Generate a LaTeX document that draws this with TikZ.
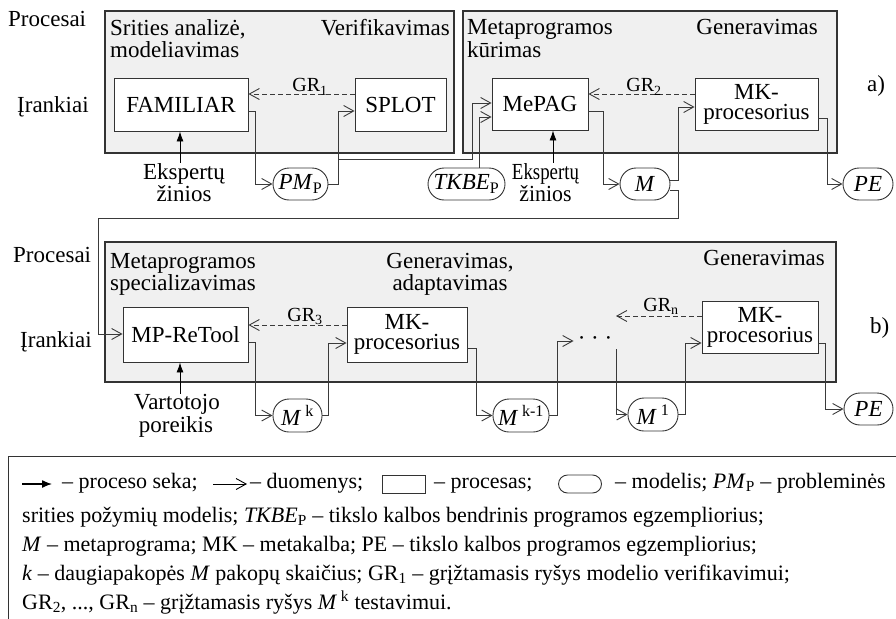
\documentclass[tikz,border=0pt]{standalone}
\usepackage{fontspec}
\usepackage{graphicx}
\setmainfont{Liberation Serif}
\usetikzlibrary{arrows.meta}
\definecolor{panelfill}{HTML}{F0F0F0}
\definecolor{edgec}{HTML}{333333}
\definecolor{wirec}{HTML}{3A3A3A}
\tikzset{
  panel/.style={rectangle, draw=edgec, line width=1.1pt, fill=panelfill, inner sep=0},
  tool/.style={rectangle, draw=edgec, line width=0.9pt, fill=white, inner sep=0, align=center,
    font=\fontsize{23}{20}\selectfont},
  model/.style={rectangle, draw=edgec, line width=0.9pt, fill=white, rounded corners=16pt,
    inner sep=0, minimum height=32pt, font=\fontsize{23}{23}\selectfont},
  lbl/.style={inner sep=0, font=\fontsize{23}{23}\selectfont},
  grl/.style={inner sep=0, font=\fontsize{20}{20}\selectfont},
  leg/.style={inner sep=0, anchor=base west, font=\fontsize{22}{22}\selectfont},
  data/.style={draw=wirec, line width=0.9pt, -{Straight Barb[length=10pt,width=11pt]}},
  fb/.style={data, dash pattern=on 5pt off 3pt},
  proc/.style={draw=black, line width=0.9pt, -{Latex[length=10pt,width=7pt]}},
}
\begin{document}
\begin{tikzpicture}[x=1pt,y=-1pt]
\useasboundingbox (0,0) rectangle (896,618);

% process panels
\node[panel, minimum width=349pt, minimum height=142pt] (panA) at (279.5,82) {};
\node[panel, minimum width=374pt, minimum height=142pt] (panB) at (650,82) {};
\node[panel, minimum width=731pt, minimum height=140pt] (panC) at (470.5,312) {};

% row captions
\node[lbl, anchor=base west] (pr1) at (8,27) {Procesai};
\node[lbl, anchor=base west] (ir1) at (17,112) {Įrankiai};
\node[lbl, anchor=base west] (pr2) at (13,262) {Procesai};
\node[lbl, anchor=base west] (ir2) at (20,347) {Įrankiai};

% panel titles
\node[lbl, anchor=base west] (tA1) at (110,36) {Srities analizė,};
\node[lbl, anchor=base west] (tA2) at (110,57) {modeliavimas};
\node[lbl, anchor=base east] (tA3) at (450,36) {Verifikavimas};
\node[lbl, anchor=base west] (tB1) at (467,35) {Metaprogramos};
\node[lbl, anchor=base west] (tB2) at (467,57) {kūrimas};
\node[lbl, anchor=base east] (tB3) at (818,35) {Generavimas};
\node[lbl, anchor=base west] (tC1) at (110,268) {Metaprogramos};
\node[lbl, anchor=base west] (tC2) at (110,290) {specializavimas};
\node[lbl, anchor=base] (tC3) at (450,268) {Generavimas,};
\node[lbl, anchor=base] (tC4) at (450,290) {adaptavimas};
\node[lbl, anchor=base east] (tC5) at (825,265) {Generavimas};
\node[lbl, anchor=base west] (la) at (867,92) {a)};
\node[lbl, anchor=base west] (lb) at (870,333) {b)};

% tools
\node[tool, minimum width=134pt, minimum height=53pt] (fam) at (181,104.5) {FAMILIAR};
\node[tool, minimum width=91pt, minimum height=53pt] (splot) at (400.5,104.5) {SPLOT};
\node[tool, minimum width=96pt, minimum height=52pt] (mepag) at (540,104) {MePAG};
\node[tool, minimum width=123pt, minimum height=52pt] (mkA) at (756.5,104) {MK-\\procesorius};
\node[tool, minimum width=125pt, minimum height=55pt] (mpr) at (185.5,334.5) {MP-ReTool};
\node[tool, minimum width=120pt, minimum height=55pt] (mkB) at (407,334.5) {MK-\\procesorius};
\node[tool, minimum width=116pt, minimum height=52pt] (mkC) at (760,327) {MK-\\procesorius};

% models
\node[model, minimum width=55pt] (pmp) at (300.5,184) {\textit{PM}\textsubscript{P}};
\node[model, minimum width=77pt] (tkbe) at (466.5,184) {\textit{TKBE}\textsubscript{P}};
\node[model, minimum width=50pt] (mA) at (645,184) {\textit{M}};
\node[model, minimum width=50pt] (peA) at (868,184) {\textit{PE}};
\node[model, minimum width=49pt, minimum height=33pt] (mk) at (297.5,415.5) {\textit{M}\,\textsuperscript{k}};
\node[model, minimum width=56pt, minimum height=33pt] (mk1) at (521,415.5) {\textit{M}\,\textsuperscript{k-1}};
\node[model, minimum width=50pt, minimum height=33pt] (m1) at (653,414.5) {\textit{M}\,\textsuperscript{1}};
\node[model, minimum width=49pt] (peB) at (868.5,409) {\textit{PE}};
\node[lbl, inner xsep=4pt] (dots) at (595,341) {· · ·};
\coordinate (grnend) at (616,316);

% external inputs
\node[lbl, anchor=base] (eA1) at (184,179) {Ekspertų};
\node[lbl, anchor=base] (eA2) at (184,201) {žinios};
\node[lbl, anchor=base] (eB1) at (545.5,179) {\scalebox{0.82}[1]{Ekspertų}};
\node[lbl, anchor=base] (eB2) at (545.5,201) {\scalebox{0.95}[1]{žinios}};
\node[lbl, anchor=base] (v1) at (177,409) {Vartotojo};
\node[lbl, anchor=base] (v2) at (176,432) {poreikis};

\draw[proc] (eA1.north -| 180,0) -- (fam.south -| 180,0);
\draw[proc] (eB1.north -| 553,0) -- (mepag.south -| 553,0);
\draw[proc] (v1.north -| 180,0) -- (mpr.south -| 180,0);

% data flow, part a
\draw[data] (fam.east |- 0,111) -- (255,111) |- (pmp.west);
\draw[data] (pmp.east) -- (338,184) |- (splot.west |- 0,111);
\coordinate (j1) at (338,159);
\draw[data] (j1) -- (472,159) |- (mepag.west |- 0,103);
\draw[data] (tkbe.north -| 479,0) |- (mepag.west |- 0,117);
\draw[data] (mepag.east |- 0,111) -- (603,111) |- (mA.west);
\draw[data] (mA.east |- 0,180) -- (678,180) |- (mkA.west |- 0,107);
\draw[data] (mA.east |- 0,190) -- (678,190) -- (678,218) -- (98,218) |- (mpr.west |- 0,334);
\draw[data] (mkA.east |- 0,118) -- (827,118) |- (peA.west);
\draw[fb] (splot.west |- 0,94) -- (fam.east |- 0,94);
\draw[fb] (mkA.west |- 0,94) -- (mepag.east |- 0,94);
\node[grl, anchor=base] (gr1) at (310,92) {GR\textsubscript{1}};
\node[grl, anchor=base] (gr2) at (644,92) {GR\textsubscript{2}};

% data flow, part b
\draw[data] (mpr.east |- 0,342) -- (255,342) |- (mk.west);
\draw[data] (mk.east) -- (328,415.5) |- (mkB.west |- 0,343);
\draw[data] (mkB.east |- 0,348) -- (476,348) |- (mk1.west);
\draw[data] (mk1.east) -- (557,415.5) |- (dots.west);
\draw[data] (dots.east |- 0,349) |- (m1.west);
\draw[data] (m1.east) -- (685,414.5) |- (mkC.west |- 0,343);
\draw[data] (mkC.east |- 0,343) -- (825,343) |- (peB.west);
\draw[fb] (mkB.west |- 0,325) -- (mpr.east |- 0,325);
\draw[fb] (mkC.west |- 0,316) -- (grnend);
\node[grl, anchor=base] (gr3) at (305,321) {GR\textsubscript{3}};
\node[grl, anchor=base] (grn) at (661,311) {GR\textsubscript{n}};

% legend
\draw[draw=edgec, line width=1pt] (8,456) rectangle (910,640);
\coordinate (s1a) at (22,484);
\coordinate (s1b) at (52,484);
\draw[line width=1.3pt, -{Latex[length=10pt,width=8pt]}] (s1a) -- (s1b);
\node[leg] (g1) at (62,488) {– proceso seka;};
\coordinate (s2a) at (213,484);
\coordinate (s2b) at (247,484);
\draw[data, draw=black] (s2a) -- (s2b);
\node[leg] (g2) at (250,488) {– duomenys;};
\node[rectangle, draw=edgec, line width=0.9pt, minimum width=43pt, minimum height=18pt, inner sep=0] (s3) at (404,484) {};
\node[leg] (g3) at (434,488) {– procesas;};
\node[rectangle, draw=edgec, line width=0.9pt, minimum width=43pt, minimum height=18pt, rounded corners=9pt, inner sep=0] (s4) at (580,484) {};
\node[leg] (g4) at (615,488) {– modelis; \textit{PM}\textsubscript{P} – probleminės};
\node[leg] (g5) at (22,522) {srities požymių modelis; \textit{TKBE}\textsubscript{P} – tikslo kalbos bendrinis programos egzempliorius;};
\node[leg] (g6) at (22,551) {\textit{M} – metaprograma; MK – metakalba; PE – tikslo kalbos programos egzempliorius;};
\node[leg] (g7) at (22,580) {\textit{k} – daugiapakopės \textit{M} pakopų skaičius; GR\textsubscript{1} – grįžtamasis ryšys modelio verifikavimui;};
\node[leg] (g8) at (22,609) {GR\textsubscript{2}, ..., GR\textsubscript{n} – grįžtamasis ryšys \textit{M}\,\textsuperscript{k} testavimui.};
\end{tikzpicture}
\end{document}
